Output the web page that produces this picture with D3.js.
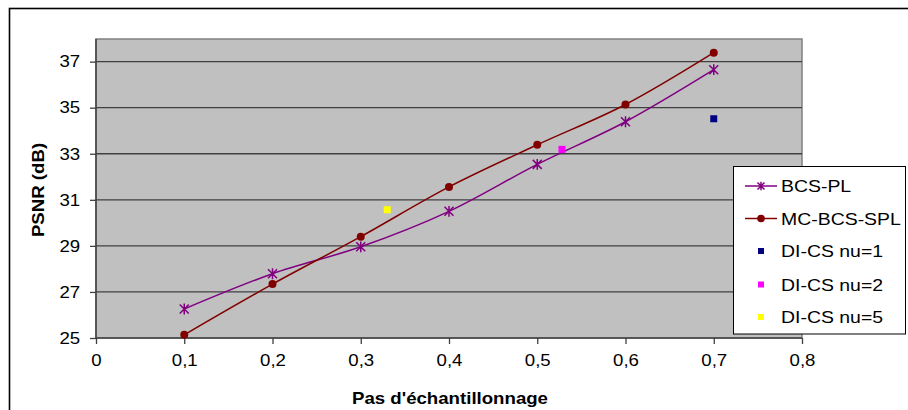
<!DOCTYPE html>
<html><head><meta charset="utf-8">
<script src="https://cdn.jsdelivr.net/npm/d3@7"></script>
<style>
html,body{margin:0;padding:0;background:#fff;}
text{font-family:"Liberation Sans",Arial,sans-serif;fill:#000;}
</style></head>
<body><svg id="c" width="908" height="410"></svg>
<script>
const xSteps = [0.1, 0.2, 0.3, 0.4, 0.5, 0.6, 0.7];
const bcsPL = [26.26, 27.79, 28.96, 30.50, 32.54, 34.39, 36.65];
const mcBcsSPL = [25.14, 27.34, 29.40, 31.56, 33.39, 35.14, 37.39];
const diCS1 = [[0.7, 34.52]];
const diCS2 = [[0.528, 33.19]];
const diCS5 = [[0.33, 30.57]];
const xTicks = [0, 0.1, 0.2, 0.3, 0.4, 0.5, 0.6, 0.7, 0.8];
const yTicks = [25, 27, 29, 31, 33, 35, 37];
const legendLabels = ["BCS-PL", "MC-BCS-SPL", "DI-CS nu=1", "DI-CS nu=2", "DI-CS nu=5"];

const svg = d3.select("#c");
const SX = 1.13; // horizontal text stretch
const L = 96, R = 802, T = 39, B = 338;
const x = d3.scaleLinear().domain([0, 0.8]).range([L, R]);
const y = d3.scaleLinear().domain([25, 25 + (B - T) / 23.03]).range([B, T]);

// outer frame
svg.append("rect").attr("x", 9.5).attr("y", 8.5).attr("width", 1000).attr("height", 1000)
  .attr("fill", "#fff").attr("stroke", "#000").attr("stroke-width", 1.6);

// plot background
svg.append("rect").attr("x", L).attr("y", T).attr("width", R - L).attr("height", B - T)
  .attr("fill", "#c0c0c0").attr("stroke", "#808080").attr("stroke-width", 1.5);

// gridlines
svg.append("g").selectAll("line").data(yTicks.slice(1)).join("line")
  .attr("x1", L).attr("x2", R).attr("y1", d => y(d)).attr("y2", d => y(d))
  .attr("stroke", "#404040").attr("stroke-width", 1.3);

const fmt = d => String(d).replace(".", ",");
// axes
const gx = svg.append("g").attr("transform", `translate(0,${B})`)
  .call(d3.axisBottom(x).tickValues(xTicks).tickFormat(fmt).tickSizeOuter(0).tickSize(6).tickPadding(10));
const gy = svg.append("g").attr("transform", `translate(${L},0)`)
  .call(d3.axisLeft(y).tickValues(yTicks).tickSizeOuter(0).tickSize(6).tickPadding(8));
[gx, gy].forEach(g => {
  g.select(".domain").attr("stroke", "#404040").attr("stroke-width", 1.5);
  g.selectAll(".tick line").attr("stroke", "#404040").attr("stroke-width", 1.3);
  g.selectAll(".tick text").attr("font-size", 16.5).attr("fill", "#000")
    .attr("font-family", "Liberation Sans, Arial, sans-serif");
});
gy.select(".domain").attr("d", `M0,${B}V${T}`);
gx.select(".domain").attr("d", `M${L},0H${R}`);
gx.selectAll(".tick text").attr("transform", `scale(${SX},1)`);
gy.selectAll(".tick text").attr("transform", `scale(${SX},1)`);

// axis titles
svg.append("text").attr("transform", `translate(450,404) scale(${SX},1)`)
  .attr("text-anchor", "middle").attr("font-weight", "bold").attr("font-size", 16.5)
  .text("Pas d'échantillonnage");
svg.append("text").attr("transform", `translate(44,190) rotate(-90) scale(${SX},1)`)
  .attr("text-anchor", "middle").attr("font-weight", "bold").attr("font-size", 16.5)
  .text("PSNR (dB)");

// lines
const line = d3.line().x(d => x(d[0])).y(d => y(d[1])).curve(d3.curveCatmullRom.alpha(0));
const bcsPts = xSteps.map((s, i) => [s, bcsPL[i]]);
const mcPts = xSteps.map((s, i) => [s, mcBcsSPL[i]]);
const purple = "#800080", darkred = "#800000";
svg.append("path").attr("d", line(bcsPts)).attr("fill", "none").attr("stroke", purple).attr("stroke-width", 1.5);
svg.append("path").attr("d", line(mcPts)).attr("fill", "none").attr("stroke", darkred).attr("stroke-width", 1.5);

function star(g, cx, cy, r, color) {
  const p = `M${cx - r},${cy - r}L${cx + r},${cy + r}M${cx - r},${cy + r}L${cx + r},${cy - r}M${cx},${cy - r * 1.2}L${cx},${cy + r * 1.2}`;
  g.append("path").attr("d", p).attr("stroke", color).attr("stroke-width", 1.5).attr("fill", "none");
}
const gm = svg.append("g");
bcsPts.forEach(d => star(gm, x(d[0]), y(d[1]), 4.5, purple));
gm.selectAll("circle").data(mcPts).join("circle")
  .attr("cx", d => x(d[0])).attr("cy", d => y(d[1])).attr("r", 4).attr("fill", darkred);

function squares(data, color, s) {
  svg.append("g").selectAll("rect").data(data).join("rect")
    .attr("x", d => x(d[0]) - s / 2).attr("y", d => y(d[1]) - s / 2)
    .attr("width", s).attr("height", s).attr("fill", color);
}
squares(diCS1, "#000080", 7);
squares(diCS2, "#ff00ff", 7);
squares(diCS5, "#ffff00", 7);

// legend
const lg = svg.append("g");
lg.append("rect").attr("x", 733.5).attr("y", 166.5).attr("width", 172).attr("height", 167.5)
  .attr("fill", "#fff").attr("stroke", "#000").attr("stroke-width", 1);
const rowsY = [186, 218.5, 251, 284.5, 317];
legendLabels.forEach((lab, i) => {
  const yy = rowsY[i];
  if (i === 0) {
    lg.append("line").attr("x1", 745).attr("x2", 777).attr("y1", yy).attr("y2", yy).attr("stroke", purple).attr("stroke-width", 1.5);
    star(lg, 761, yy, 3.5, purple);
  } else if (i === 1) {
    lg.append("line").attr("x1", 745).attr("x2", 777).attr("y1", yy).attr("y2", yy).attr("stroke", darkred).attr("stroke-width", 1.5);
    lg.append("circle").attr("cx", 761).attr("cy", yy).attr("r", 3.8).attr("fill", darkred);
  } else {
    const col = ["#000080", "#ff00ff", "#ffff00"][i - 2];
    lg.append("rect").attr("x", 758).attr("y", yy - 3).attr("width", 6).attr("height", 6).attr("fill", col);
  }
  lg.append("text").attr("transform", `translate(781,${yy + 6}) scale(${SX},1)`)
    .attr("font-size", 17.2).text(lab);
});
</script></body></html>
